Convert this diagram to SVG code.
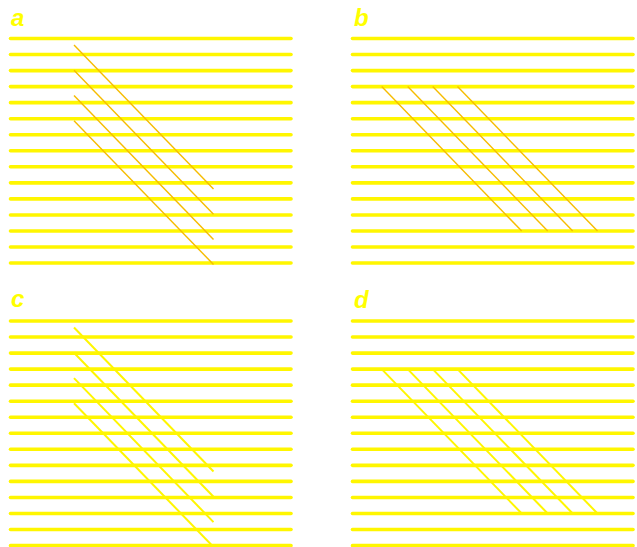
<svg xmlns="http://www.w3.org/2000/svg" width="637" height="547" viewBox="0 0 637 547">
<defs>
<style>
.h{stroke:#fff600;stroke-width:3.6;stroke-linecap:round;fill:none}
.o{stroke:#f6bc00;stroke-width:1.4;fill:none}
.y{stroke:#fff600;stroke-width:2;fill:none}
.lbl{font-family:"Liberation Sans",Arial,sans-serif;font-weight:bold;font-style:italic;font-size:24px;fill:#ffff00}
</style>
<g id="hl">
<line class="h" x1="10.5" y1="38.5" x2="291" y2="38.5"/>
<line class="h" x1="10.5" y1="54.54" x2="291" y2="54.54"/>
<line class="h" x1="10.5" y1="70.58" x2="291" y2="70.58"/>
<line class="h" x1="10.5" y1="86.62" x2="291" y2="86.62"/>
<line class="h" x1="10.5" y1="102.66" x2="291" y2="102.66"/>
<line class="h" x1="10.5" y1="118.7" x2="291" y2="118.7"/>
<line class="h" x1="10.5" y1="134.74" x2="291" y2="134.74"/>
<line class="h" x1="10.5" y1="150.78" x2="291" y2="150.78"/>
<line class="h" x1="10.5" y1="166.82" x2="291" y2="166.82"/>
<line class="h" x1="10.5" y1="182.86" x2="291" y2="182.86"/>
<line class="h" x1="10.5" y1="198.9" x2="291" y2="198.9"/>
<line class="h" x1="10.5" y1="214.94" x2="291" y2="214.94"/>
<line class="h" x1="10.5" y1="230.98" x2="291" y2="230.98"/>
<line class="h" x1="10.5" y1="247.02" x2="291" y2="247.02"/>
<line class="h" x1="10.5" y1="263.06" x2="291" y2="263.06"/>
</g>
</defs>
<g id="panel-a">
<text class="lbl" x="11" y="26">a</text>
<use href="#hl"/>
<line class="o" x1="74" y1="45" x2="213.5" y2="189"/>
<line class="o" x1="74" y1="70.3" x2="213.5" y2="214.3"/>
<line class="o" x1="74" y1="95.6" x2="213.5" y2="239.6"/>
<line class="o" x1="74" y1="120.8" x2="213.5" y2="264.5"/>
</g>
<g id="panel-b">
<text class="lbl" x="354" y="26">b</text>
<use href="#hl" transform="translate(342,0)"/>
<line class="o" x1="381.7" y1="86.6" x2="521.7" y2="231"/>
<line class="o" x1="407.7" y1="86.6" x2="547.7" y2="231"/>
<line class="o" x1="432.7" y1="86.6" x2="572.7" y2="231"/>
<line class="o" x1="457.5" y1="86.6" x2="597.5" y2="231"/>
</g>
<g id="panel-c">
<text class="lbl" x="11" y="307">c</text>
<use href="#hl" transform="translate(0,282.5)"/>
<line class="y" x1="74" y1="327.5" x2="213.5" y2="471.5"/>
<line class="y" x1="74" y1="352.8" x2="213.5" y2="496.8"/>
<line class="y" x1="74" y1="378.1" x2="213.5" y2="522.1"/>
<line class="y" x1="74" y1="403.3" x2="213.5" y2="547"/>
</g>
<g id="panel-d">
<text class="lbl" x="354" y="308">d</text>
<use href="#hl" transform="translate(342,282.5)"/>
<line class="y" x1="381.7" y1="369.1" x2="521.7" y2="513.5"/>
<line class="y" x1="407.7" y1="369.1" x2="547.7" y2="513.5"/>
<line class="y" x1="432.7" y1="369.1" x2="572.7" y2="513.5"/>
<line class="y" x1="457.5" y1="369.1" x2="597.5" y2="513.5"/>
</g>
</svg>
